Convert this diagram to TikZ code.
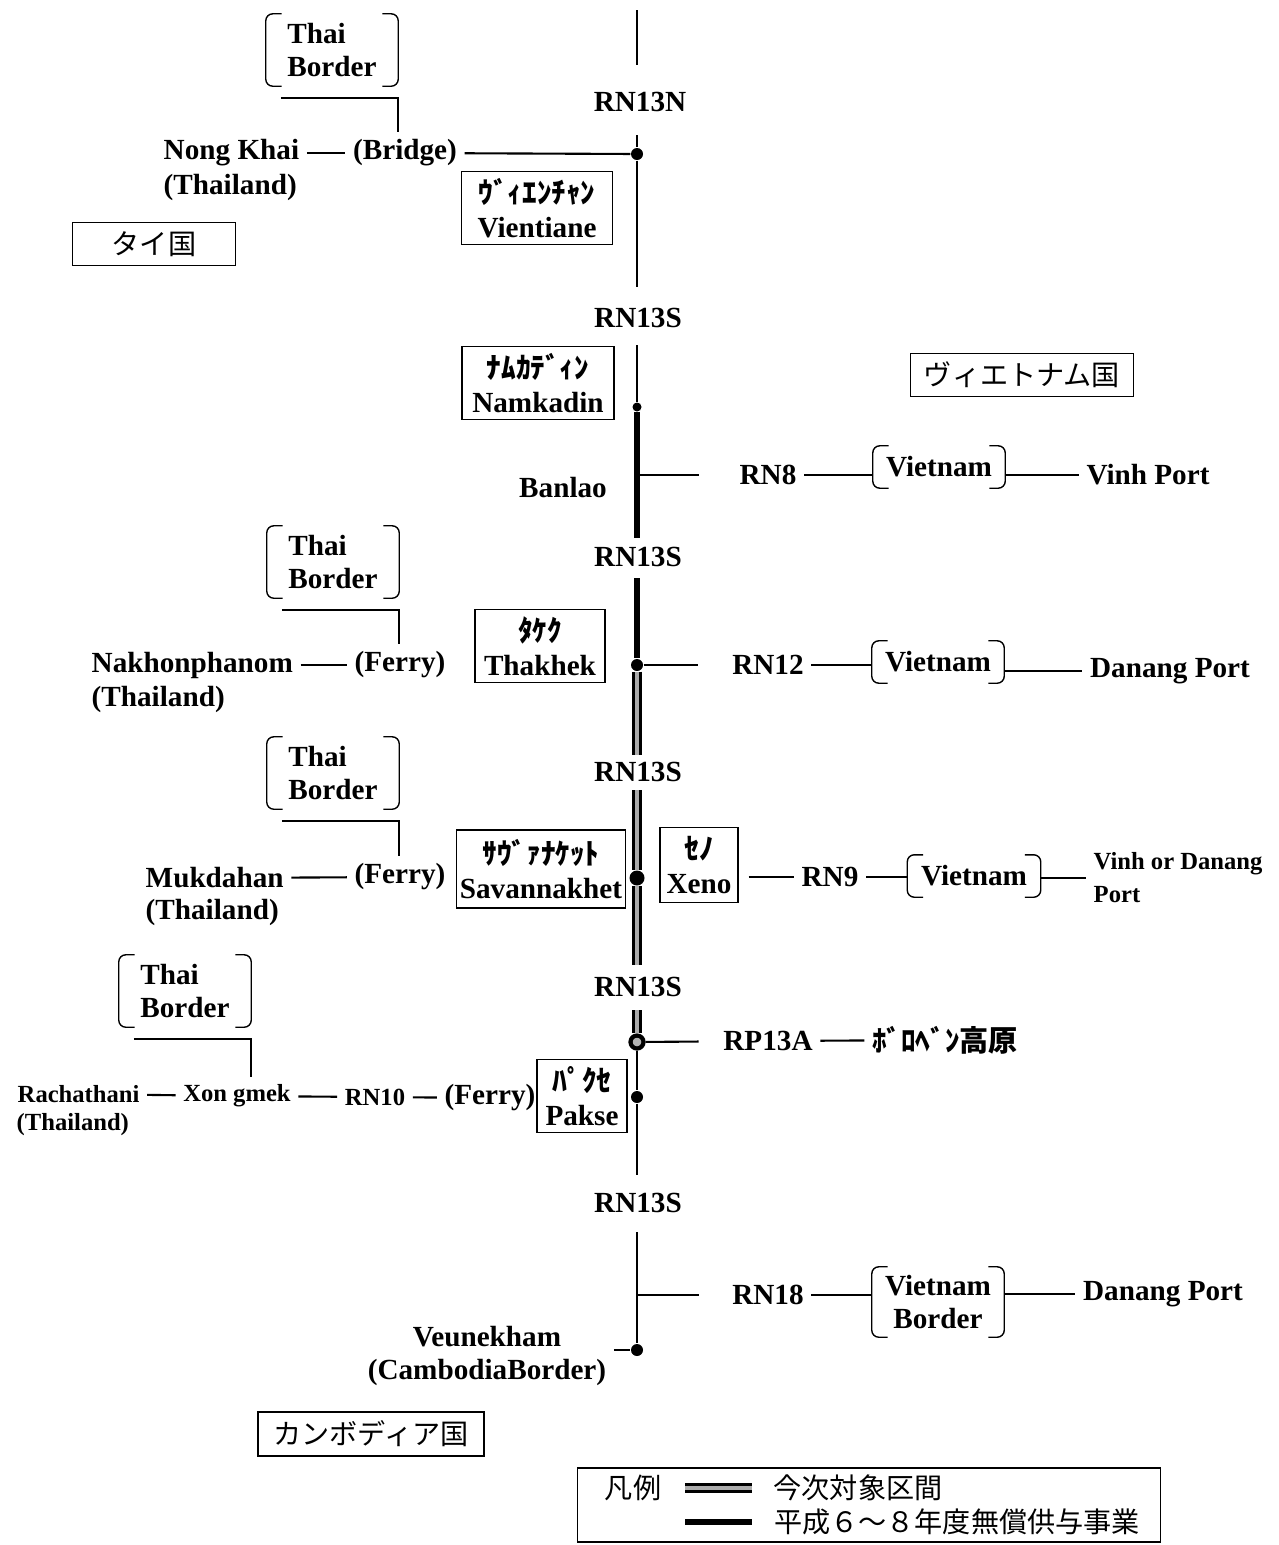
\documentclass[tikz,border=0pt]{standalone}
\usepackage{fontspec}
\setmainfont{Liberation Serif}
\newfontfamily\jp{Noto Sans CJK JP}
\tikzstyle{lbl}=[inner sep=2pt]
\tikzstyle{small}=[inner sep=2pt, font=\fontsize{7}{9.4}\selectfont\bfseries]
\tikzstyle{jplbl}=[inner sep=2pt, font=\jp\mdseries\fontsize{8}{9.6}\selectfont]
\tikzstyle{town}=[draw, align=center, inner xsep=1pt, inner ysep=2pt, minimum height=0.73cm]
\tikzstyle{country}=[draw, inner sep=2pt, minimum height=0.43cm, font=\jp\mdseries\fontsize{8}{9.6}\selectfont]
\tikzstyle{border}=[align=left, inner sep=2pt, minimum width=1.31cm, minimum height=0.71cm]
\tikzstyle{vnborder}=[align=center, inner sep=2pt, minimum width=1.31cm, minimum height=0.41cm]
\tikzstyle{dot}=[circle, fill=black, minimum size=0.12cm, inner sep=0pt]
\tikzstyle{road}=[line width=0.6pt]
\tikzstyle{oldroad}=[line width=1.8pt]
\tikzstyle{newroad}=[line width=0.9pt, double=gray!65, double distance=1.3pt]
\newcommand{\brackets}[1]{%
  \draw[rounded corners=2pt] ([xshift=4.5pt]#1.north west) -| (#1.south west) -- ([xshift=4.5pt]#1.south west);
  \draw[rounded corners=2pt] ([xshift=-4.5pt]#1.north east) -| (#1.south east) -- ([xshift=-4.5pt]#1.south east);}
\newcommand{\kana}[1]{{\jp #1}}

\begin{document}
\begin{tikzpicture}[x=0.01cm, y=-0.01cm, font=\fontsize{8.3}{9.6}\selectfont\bfseries]
\useasboundingbox (0,0) rectangle (1279,1545);

\coordinate (n0) at (637,10);
\coordinate (n1) at (637,65);
\node[lbl] (rn13n) at (640,102) {RN13N};
\coordinate (n2) at (637,135);
\node[dot] (d1) at (637,154) {};
\coordinate (n3) at (637,287);
\node[lbl] (rn13s1) at (638,318) {RN13S};
\coordinate (n4) at (637,345);
\node[dot, minimum size=0.09cm] (d2) at (637,407) {};
\coordinate (n5) at (637,538);
\node[lbl] (rn13s2) at (638,557) {RN13S};
\coordinate (n6) at (637,578);
\node[dot] (d3) at (637,665) {};
\coordinate (n7) at (637,755);
\node[lbl] (rn13s3) at (638,772) {RN13S};
\coordinate (n8) at (637,790);
\node[dot, minimum size=0.15cm] (d4) at (637,878) {};
\coordinate (n9) at (637,965);
\node[lbl] (rn13s4) at (638,987) {RN13S};
\coordinate (n10) at (637,1010);
\node[dot, draw, line width=1.2pt, fill=gray!60, minimum size=0.13cm] (d5) at (637,1042) {};
\node[dot] (d6) at (637,1097) {};
\coordinate (n11) at (637,1175);
\node[lbl] (rn13s5) at (638,1203) {RN13S};
\coordinate (n12) at (637,1232);
\node[dot] (d7) at (637,1350) {};
\draw[road] (n0) -- (n1);
\draw[road] (n2) -- (d1) -- (n3);
\draw[road] (n4) -- (d2);
\draw[oldroad] (d2) -- (n5);
\draw[oldroad] (n6) -- (d3);
\draw[newroad] (d3) -- (n7);
\draw[newroad] (n8) -- (d4) -- (n9);
\draw[newroad] (n10) -- (d5);
\draw[road] (d5) -- (d6) -- (n11);
\draw[road] (n12) -- (d7);

\node[border] (tb1) at (332,50) {Thai\\Border};
\brackets{tb1}
\node[lbl] (bridge) at (405,153) {(Bridge)};
\node[lbl, anchor=west] (nk) at (156,153) {Nong Khai};
\node[lbl, anchor=west] (nkt) at (156,187) {(Thailand)};
\node[town, minimum width=1.51cm] (vte) at (537,208) {\kana{ｳﾞｨｴﾝﾁｬﾝ}\\Vientiane};
\node[country, minimum width=1.63cm] (thai) at (154,244) {タイ国};
\draw[road] ([shift={(15,12)}]tb1.south west) -| (tb1.south east |- bridge.north);
\draw[road] (nk) -- (bridge);
\draw[road] (bridge) -- (d1);

\node[town, minimum width=1.52cm] (nkd) at (538,383) {\kana{ﾅﾑｶﾃﾞｨﾝ}\\Namkadin};
\node[country, minimum width=2.23cm] (viet) at (1022,375) {ヴィエトナム国};
\node[lbl] (banlao) at (563,488) {Banlao};
\coordinate (b8) at (637,475);
\node[lbl] (rn8) at (768,475) {RN8};
\node[vnborder] (vn8) at (939,467) {Vietnam};
\brackets{vn8}
\node[lbl] (vinh) at (1148,475) {Vinh Port};
\draw[road, shorten >=0.33cm] (b8) -- (rn8);
\draw[road] (rn8) -- (rn8 -| vn8.west);
\draw[road] (vn8.east |- vinh) -- (vinh);

\node[border] (tb2) at (333,562) {Thai\\Border};
\brackets{tb2}
\node[lbl] (ferry1) at (400,665) {(Ferry)};
\node[lbl, anchor=west] (nkp) at (84,665) {Nakhonphanom};
\node[lbl, anchor=west] (nkpt) at (84,699) {(Thailand)};
\node[town, minimum width=1.3cm] (thk) at (540,646) {\kana{ﾀｹｸ}\\Thakhek};
\node[lbl] (rn12) at (768,665) {RN12};
\node[vnborder] (vn12) at (938,662) {Vietnam};
\brackets{vn12}
\node[lbl] (danang1) at (1170,671) {Danang Port};
\draw[road] ([shift={(15,12)}]tb2.south west) -| (tb2.south east |- ferry1.north);
\draw[road] (nkp) -- (ferry1);
\draw[road, shorten >=0.27cm] (d3) -- (rn12);
\draw[road] (rn12) -- (rn12 -| vn12.west);
\draw[road] (vn12.east |- danang1) -- (danang1);

\node[border] (tb3) at (333,773) {Thai\\Border};
\brackets{tb3}
\node[lbl] (ferry2) at (400,877) {(Ferry)};
\node[lbl, anchor=west] (mk) at (138,878) {Mukdahan};
\node[lbl, anchor=west] (mkt) at (138,912) {(Thailand)};
\node[town, minimum width=1.66cm, minimum height=0.78cm] (sav) at (541,869) {\kana{ｻｳﾞｧﾅｹｯﾄ}\\Savannakhet};
\node[town, minimum width=0.78cm, minimum height=0.75cm] (xeno) at (699,865) {\kana{ｾﾉ}\\Xeno};
\node[lbl] (rn9) at (830,877) {RN9};
\node[vnborder, minimum width=1.32cm] (vn9) at (974,876) {Vietnam};
\brackets{vn9}
\node[small, anchor=west, align=left] (port) at (1086,878) {Vinh or Danang\\Port};
\draw[road] ([shift={(15,12)}]tb3.south west) -| (tb3.south east |- ferry2.north);
\draw[road] (mk) -- (ferry2);
\draw[road, shorten <=0.1cm] (xeno.east |- rn9) -- (rn9);
\draw[road] (rn9) -- (rn9 -| vn9.west);
\draw[road] (vn9.east |- port) -- (port);

\node[border] (tb4) at (185,991) {Thai\\Border};
\brackets{tb4}
\node[small, anchor=west] (rach) at (10,1094) {Rachathani};
\node[small, anchor=west] (racht) at (9,1125) {(Thailand)};
\node[small] (xg) at (237,1096) {Xon gmek};
\node[small] (rn10) at (375,1097) {RN10};
\node[lbl] (ferry3) at (490,1098) {(Ferry)};
\node[town, minimum width=0.9cm, minimum height=0.72cm] (pakse) at (582,1096) {\kana{ﾊﾟｸｾ}\\Pakse};
\node[lbl] (rp13a) at (768,1041) {RP13A};
\node[lbl] (bolaven) at (945,1040) {\kana{ﾎﾞﾛﾍﾞﾝ高原}};
\draw[road] ([shift={(15,12)}]tb4.south west) -| (tb4.south east |- xg.north);
\draw[road] (rach) -- (xg);
\draw[road] (xg) -- (rn10);
\draw[road] (rn10) -- (ferry3);
\draw[road, shorten >=0.17cm] (d5) -- (rp13a);
\draw[road] (rp13a) -- (bolaven);

\coordinate (b18) at (637,1295);
\node[lbl] (rn18) at (768,1295) {RN18};
\node[vnborder, minimum height=0.69cm] (vn18) at (938,1302) {Vietnam\\Border};
\brackets{vn18}
\node[lbl] (danang2) at (1163,1294) {Danang Port};
\draw[road, shorten >=0.26cm] (b18) -- (rn18);
\draw[road] (rn18) -- (rn18 -| vn18.west);
\draw[road] (vn18.east |- danang2) -- (danang2);

\node[lbl, align=center] (veune) at (487,1356) {Veunekham\\(CambodiaBorder)};
\draw[road] (veune.east |- d7) -- (d7);
\node[country, minimum width=2.26cm, minimum height=0.44cm] (cambo) at (371,1434) {カンボディア国};

\node[draw, minimum width=5.83cm, minimum height=0.74cm] (legend) at (869,1505) {};
\node[jplbl] (hanrei) at (633,1488) {凡例};
\coordinate (l1a) at (685,1488);
\coordinate (l1b) at (752,1488);
\node[jplbl] (konji) at (858,1488) {今次対象区間};
\coordinate (l2a) at (685,1522);
\coordinate (l2b) at (752,1522);
\node[jplbl] (heisei) at (957,1522) {平成６～８年度無償供与事業};
\draw[newroad] (l1a) -- (l1b);
\draw[oldroad] (l2a) -- (l2b);
\end{tikzpicture}
\end{document}
